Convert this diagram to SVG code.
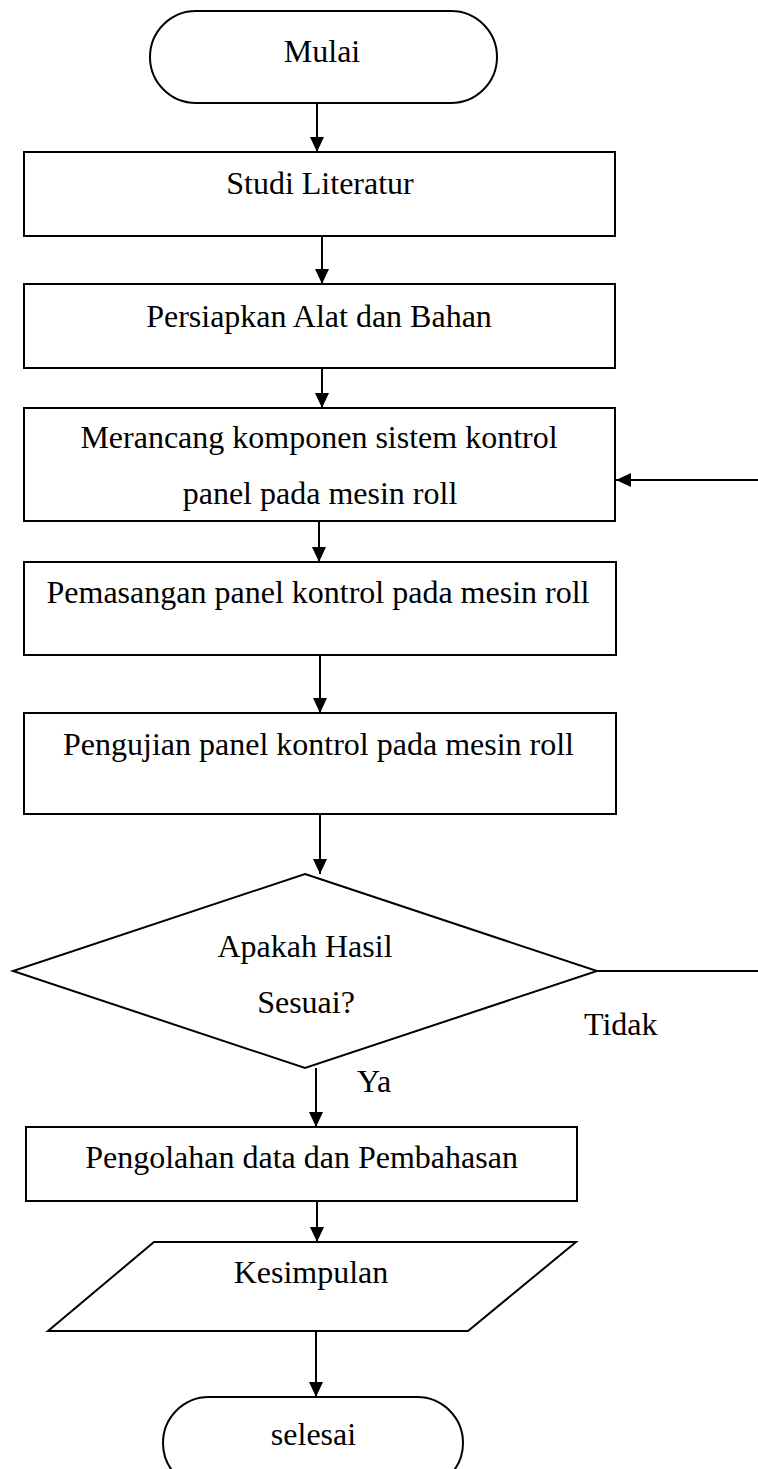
<svg xmlns="http://www.w3.org/2000/svg" width="758" height="1469" viewBox="0 0 758 1469">
<style>
.s{fill:#fff;stroke:#000;stroke-width:2}
.t{font-family:"Liberation Serif","Times New Roman",serif;font-size:32px;fill:#000;text-anchor:middle}
.tl{font-family:"Liberation Serif","Times New Roman",serif;font-size:32px;fill:#000}
.c{fill:none;stroke:#000;stroke-width:2}
</style>
<defs>
<marker id="ah" markerUnits="userSpaceOnUse" markerWidth="15" markerHeight="14" refX="15" refY="7" orient="auto">
<path d="M0,0 L15,7 L0,14 z" fill="#000"/>
</marker>
</defs>
<rect width="758" height="1469" fill="#fff"/>
<g id="connectors">
<line class="c" x1="317" y1="103" x2="317" y2="152" marker-end="url(#ah)"/>
<line class="c" x1="322" y1="236" x2="322" y2="284" marker-end="url(#ah)"/>
<line class="c" x1="322" y1="368" x2="322" y2="408" marker-end="url(#ah)"/>
<line class="c" x1="319" y1="521" x2="319" y2="562" marker-end="url(#ah)"/>
<line class="c" x1="320" y1="655" x2="320" y2="713" marker-end="url(#ah)"/>
<line class="c" x1="320" y1="814" x2="320" y2="874" marker-end="url(#ah)"/>
<line class="c" x1="316" y1="1068" x2="316" y2="1127" marker-end="url(#ah)"/>
<line class="c" x1="317" y1="1201" x2="317" y2="1242" marker-end="url(#ah)"/>
<line class="c" x1="316" y1="1331" x2="316" y2="1397" marker-end="url(#ah)"/>
<line class="c" x1="597" y1="971" x2="760" y2="971"/>
<line class="c" x1="760" y1="480" x2="616" y2="480" marker-end="url(#ah)"/>
</g>
<g id="mulai">
<rect class="s" x="150" y="11" width="347" height="92" rx="46" ry="46"/>
<text class="t" x="322" y="62">Mulai</text>
</g>
<g id="studi">
<rect class="s" x="24" y="152" width="591" height="84"/>
<text class="t" x="320" y="194">Studi Literatur</text>
</g>
<g id="persiapkan">
<rect class="s" x="24" y="284" width="591" height="84"/>
<text class="t" x="319" y="327">Persiapkan Alat dan Bahan</text>
</g>
<g id="merancang">
<rect class="s" x="24" y="408" width="591" height="113"/>
<text class="t" x="319" y="448">Merancang komponen sistem kontrol</text>
<text class="t" x="320" y="504">panel pada mesin roll</text>
</g>
<g id="pemasangan">
<rect class="s" x="24" y="562" width="592" height="93"/>
<text class="t" x="318" y="603">Pemasangan panel kontrol pada mesin roll</text>
</g>
<g id="pengujian">
<rect class="s" x="24" y="713" width="592" height="101"/>
<text class="t" x="318.5" y="755">Pengujian panel kontrol pada mesin roll</text>
</g>
<g id="keputusan">
<polygon class="s" points="305,874 597,971 305,1068 13,971"/>
<text class="t" x="305" y="957">Apakah Hasil</text>
<text class="t" x="306" y="1013">Sesuai?</text>
</g>
<g id="label-tidak">
<text class="tl" x="584" y="1035">Tidak</text>
</g>
<g id="label-ya">
<text class="tl" x="357" y="1092">Ya</text>
</g>
<g id="pengolahan">
<rect class="s" x="26" y="1127" width="551" height="74"/>
<text class="t" x="301.5" y="1168">Pengolahan data dan Pembahasan</text>
</g>
<g id="kesimpulan">
<polygon class="s" points="154,1242 576,1242 468,1331 48,1331"/>
<text class="t" x="311" y="1283">Kesimpulan</text>
</g>
<g id="selesai">
<rect class="s" x="163" y="1397" width="300" height="92" rx="46" ry="46"/>
<text class="t" x="313.5" y="1445">selesai</text>
</g>
</svg>
